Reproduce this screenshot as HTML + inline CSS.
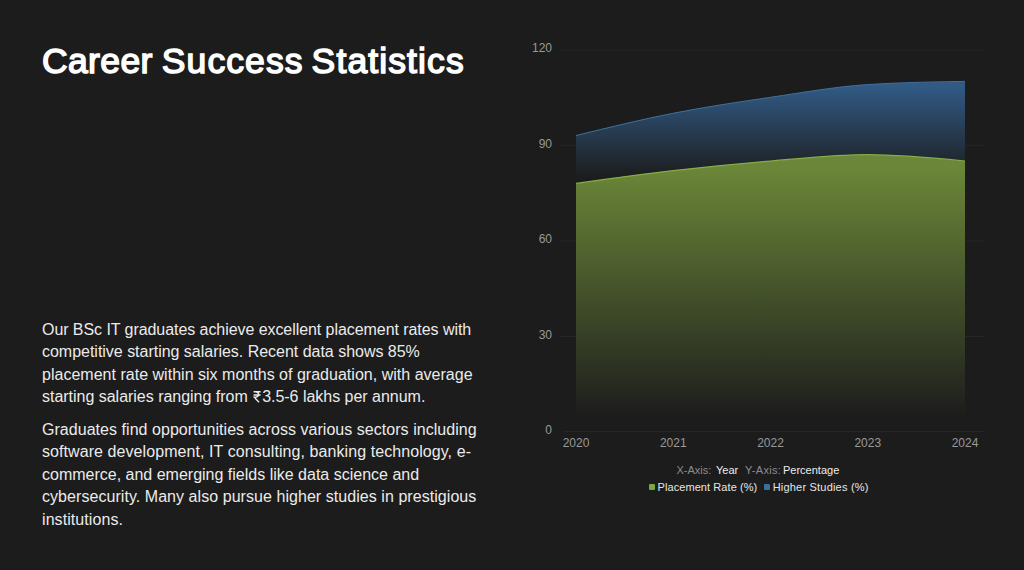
<!DOCTYPE html>
<html><head><meta charset="utf-8">
<style>
html,body{margin:0;padding:0;}
body{width:1024px;height:570px;background:#1c1c1c;position:relative;overflow:hidden;font-family:"Liberation Sans",sans-serif;}
h1 span{position:absolute;top:0;}
h1{position:absolute;left:0px;top:40.5px;margin:0;font-size:35.5px;font-weight:normal;color:#ffffff;-webkit-text-stroke:1.5px #ffffff;letter-spacing:0.72px;line-height:41px;white-space:nowrap;}
.txt{position:absolute;left:42px;width:460px;color:#ebebeb;font-size:16px;line-height:22.4px;white-space:nowrap;}
.p1{top:319px;}
.p2{top:419px;}
.rs{display:inline-block;width:8px;height:11.5px;vertical-align:-0.6px;margin:0 1.2px 0 0.8px;}
svg{position:absolute;left:0;top:0;}
.tick{font-size:12px;fill:#999999;}
.leg{position:absolute;left:0;width:1024px;font-size:11.5px;white-space:nowrap;}
</style></head><body>
<h1><span style="left:42px;letter-spacing:0.36px">Career</span><span style="left:161.8px;letter-spacing:1.1px">Success</span><span style="left:311.6px;letter-spacing:1.12px">Statistics</span></h1>
<div class="txt p1"><div style="letter-spacing:-0.063px">Our BSc IT graduates achieve excellent placement rates with</div><div style="letter-spacing:-0.020px">competitive starting salaries. Recent data shows 85%</div><div style="letter-spacing:0.017px">placement rate within six months of graduation, with average</div><div style="letter-spacing:-0.020px">starting salaries ranging from <svg class="rs" style="position:static" viewBox="0 0 8 11.5"><path d="M0.6,0.7H7.6M0.6,3.95H7.6M2.4,0.7C4.7,0.7 5.6,1.9 5.6,3.4C5.6,5.1 4.3,6.15 1.2,6.15L6,11.3" fill="none" stroke="#ebebeb" stroke-width="1.35"/></svg>3.5-6 lakhs per annum.</div></div>
<div class="txt p2"><div style="letter-spacing:0.040px">Graduates find opportunities across various sectors including</div><div style="letter-spacing:0.076px">software development, IT consulting, banking technology, e-</div><div style="letter-spacing:0.000px">commerce, and emerging fields like data science and</div><div style="letter-spacing:0.055px">cybersecurity. Many also pursue higher studies in prestigious</div><div style="letter-spacing:0.077px">institutions.</div></div>
<svg width="1024" height="570" viewBox="0 0 1024 570">
<defs>
<linearGradient id="gG" x1="0" y1="0" x2="0" y2="1">
<stop offset="5%" stop-color="#7fa13f" stop-opacity="0.8"/>
<stop offset="95%" stop-color="#7fa13f" stop-opacity="0"/>
</linearGradient>
<linearGradient id="gB" x1="0" y1="0" x2="0" y2="1">
<stop offset="5%" stop-color="#36699e" stop-opacity="0.8"/>
<stop offset="95%" stop-color="#36699e" stop-opacity="0"/>
</linearGradient>
</defs>
<g stroke="#252525" stroke-width="1">
<line x1="560" x2="984" y1="50" y2="50"/>
<line x1="560" x2="576" y1="145.5" y2="145.5"/><line x1="965" x2="984" y1="145.5" y2="145.5"/>
<line x1="560" x2="576" y1="241" y2="241"/><line x1="965" x2="984" y1="241" y2="241"/>
<line x1="560" x2="576" y1="336.5" y2="336.5"/><line x1="965" x2="984" y1="336.5" y2="336.5"/>
<line x1="563" x2="984" y1="431.5" y2="431.5"/>
</g>
<path d="M576.00,183.38C608.42,178.86 640.83,174.34 673.25,170.62C705.67,166.91 738.08,163.72 770.50,161.06C802.92,158.41 835.33,154.69 867.75,154.69C900.17,154.69 932.58,157.88 965.00,161.06L965.00,432.00L576.00,432.00Z" fill="url(#gG)"/>
<path d="M576.00,135.56C608.42,127.59 640.83,119.62 673.25,113.25C705.67,106.88 738.08,102.09 770.50,97.31C802.92,92.53 835.33,86.69 867.75,84.56C900.17,82.44 932.58,81.91 965.00,81.38L965.00,161.06C932.58,157.88 900.17,154.69 867.75,154.69C835.33,154.69 802.92,158.41 770.50,161.06C738.08,163.72 705.67,166.91 673.25,170.62C640.83,174.34 608.42,178.86 576.00,183.38Z" fill="url(#gB)"/>
<path d="M576.00,183.38C608.42,178.86 640.83,174.34 673.25,170.62C705.67,166.91 738.08,163.72 770.50,161.06C802.92,158.41 835.33,154.69 867.75,154.69C900.17,154.69 932.58,157.88 965.00,161.06" fill="none" stroke="#85ad48" stroke-width="1.2"/>
<path d="M576.00,135.56C608.42,127.59 640.83,119.62 673.25,113.25C705.67,106.88 738.08,102.09 770.50,97.31C802.92,92.53 835.33,86.69 867.75,84.56C900.17,82.44 932.58,81.91 965.00,81.38" fill="none" stroke="#3f70a0" stroke-width="1"/>
<g class="tick" text-anchor="end">
<text x="552" y="52">120</text>
<text x="552" y="148">90</text>
<text x="552" y="243">60</text>
<text x="552" y="339">30</text>
<text x="552" y="434">0</text>
</g>
<g class="tick" text-anchor="middle" transform="translate(0,-0.5)">
<text x="576" y="447">2020</text>
<text x="673.25" y="447">2021</text>
<text x="770.5" y="447">2022</text>
<text x="867.75" y="447">2023</text>
<text x="965" y="447">2024</text>
</g>
<g font-size="11px" fill="#8c8c8c">
<text x="676.5" y="473.6">X-Axis:</text>
<text x="745" y="473.6" letter-spacing="0.35">Y-Axis:</text>
</g>
<g font-size="11px" fill="#ededed">
<text x="716" y="473.6">Year</text>
<text x="783" y="473.6">Percentage</text>
</g>
<rect x="649" y="484" width="6" height="6" rx="1" fill="#7ea444"/>
<text x="657.5" y="491" font-size="11px" fill="#e6e6e6" letter-spacing="0.08">Placement Rate (%)</text>
<rect x="764" y="484" width="6" height="6" rx="1" fill="#3a6ea3"/>
<text x="772.7" y="491" font-size="11px" fill="#e6e6e6" letter-spacing="0.2">Higher Studies (%)</text>
</svg>
</body></html>
